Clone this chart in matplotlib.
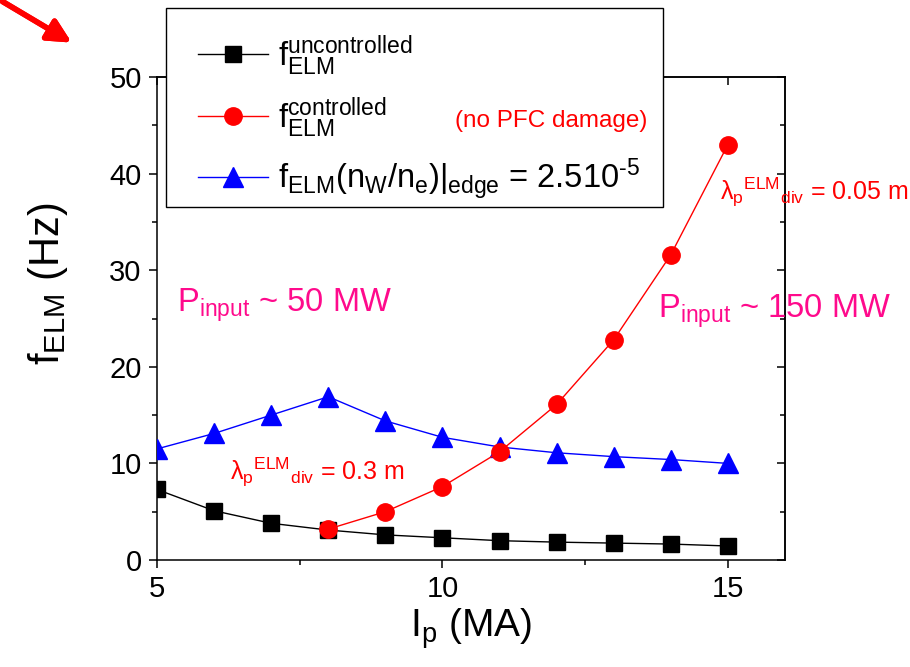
import matplotlib.pyplot as plt
from matplotlib.lines import Line2D
from matplotlib.patches import Rectangle

plt.rcParams['font.family'] = ['Liberation Sans', 'DejaVu Sans']
plt.rcParams['mathtext.fontset'] = 'custom'
plt.rcParams['mathtext.rm'] = 'Liberation Sans'
plt.rcParams['mathtext.it'] = 'Liberation Sans'
plt.rcParams['mathtext.default'] = 'regular'

# plasma current (MA)
ip = [5, 6, 7, 8, 9, 10, 11, 12, 13, 14, 15]
ip_ctrl = [8, 9, 10, 11, 12, 13, 14, 15]

# ELM frequencies (Hz)
f_unctrl = [7.3, 5.1, 3.8, 3.1, 2.6, 2.3, 2.0, 1.85, 1.75, 1.65, 1.45]
f_ctrl = [3.2, 5.0, 7.6, 11.2, 16.1, 22.8, 31.6, 43.0]
f_w = [11.5, 13.1, 15.0, 16.9, 14.4, 12.7, 11.7, 11.1, 10.7, 10.4, 10.0]

W, H = 910, 667
fig = plt.figure(figsize=(W / 100, H / 100), dpi=100)
ax = fig.add_axes([157 / W, 1 - 560 / H, (785 - 157) / W, (560 - 77) / H])

ax.plot(ip, f_unctrl, color='black', lw=1, marker='s', ms=12, zorder=3)
ax.plot(ip_ctrl, f_ctrl, color='red', lw=1, marker='o', ms=12.5, zorder=4)
ax.plot(ip, f_w, color='blue', lw=1, marker='^', ms=15, zorder=3)

ax.set_xlim(5, 16)
ax.set_ylim(0, 50)
ax.set_xticks([5, 10, 15])
ax.set_xticks([7.5, 12.5], minor=True)
ax.set_yticks([0, 10, 20, 30, 40, 50])
ax.set_yticks([5, 15, 25, 35, 45], minor=True)
ax.tick_params(which='both', direction='out', labelsize=21, width=1.1)
ax.tick_params(which='major', length=6, pad=5)
ax.tick_params(which='minor', length=3.5)
for s in ax.spines.values():
    s.set_linewidth(1.1)

# top and right frame carry inward ticks without labels
top = ax.secondary_xaxis('top')
top.set_xticks([5, 10, 15], labels=[])
top.set_xticks([7.5, 12.5], minor=True)
right = ax.secondary_yaxis('right')
right.set_yticks([0, 10, 20, 30, 40, 50], labels=[])
right.set_yticks([5, 15, 25, 35, 45], minor=True)
for sec in (top, right):
    sec.tick_params(which='both', direction='in', width=1.1)
    sec.tick_params(which='major', length=6)
    sec.tick_params(which='minor', length=3.5)
    for s in sec.spines.values():
        s.set_linewidth(1.1)

ax.set_xlabel(r'$I_p$ (MA)', fontsize=28, labelpad=2)
ax.set_ylabel(r'$f_{ELM}$ (Hz)', fontsize=30)
ax.yaxis.set_label_coords(-0.139, 0.571)

# legend box sits above the axes frame
box = Rectangle((166 / W, 1 - 207 / H), (663 - 166) / W, (207 - 8) / H,
                transform=fig.transFigure, facecolor='white',
                edgecolor='black', lw=1.0, zorder=9)
fig.add_artist(box)

handles = [
    Line2D([], [], color='black', lw=1, marker='s', ms=12),
    Line2D([], [], color='red', lw=1, marker='o', ms=12.5),
    Line2D([], [], color='blue', lw=1, marker='^', ms=15),
]
labels = [
    r'$f_{ELM}^{uncontrolled}$',
    r'$f_{ELM}^{controlled}$',
    r'$f_{ELM}(n_W/n_e)|_{edge}$ = 2.510$^{\text{-}5}$',
]
leg = fig.legend(handles, labels, loc='upper left',
                 bbox_to_anchor=(198 / W, 1 - 33 / H), fontsize=23.5,
                 frameon=False, handlelength=2.15, labelspacing=0.52,
                 borderpad=0, borderaxespad=0, handletextpad=0.3)
leg.set_zorder(10)

fig.text(455 / W, 1 - 127 / H, '(no PFC damage)', color='red', fontsize=17.5,
         zorder=11)

pink = '#FF0A8C'
fig.text(177 / W, 1 - 312 / H, r'$P_{input}$ ~ 50 MW', color=pink, fontsize=23.5)
fig.text(658 / W, 1 - 318 / H, r'$P_{input}$ ~ 150 MW', color=pink, fontsize=23.5)
fig.text(720 / W, 1 - 200 / H, r'$\lambda_p{}^{ELM}{}_{div}$ = 0.05 m',
         color='red', fontsize=18)
fig.text(230 / W, 1 - 480 / H, r'$\lambda_p{}^{ELM}{}_{div}$ = 0.3 m',
         color='red', fontsize=18)

fig.add_artist(plt.annotate('', xy=(74 / W, 1 - 44 / H), xytext=(0, 1.0),
                            xycoords='figure fraction', textcoords='figure fraction',
                            arrowprops=dict(arrowstyle='-|>', color='red', lw=4,
                                            mutation_scale=35)))

fig.savefig('out.png', dpi=100)
